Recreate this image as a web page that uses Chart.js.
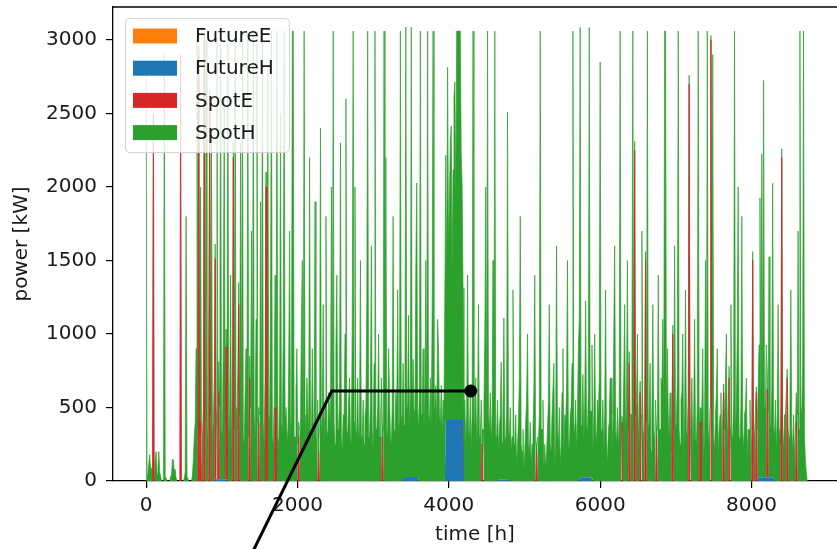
<!DOCTYPE html>
<html>
<head>
<meta charset="utf-8">
<script src="https://cdn.jsdelivr.net/npm/chart.js@4.4.1/dist/chart.umd.min.js"></script>
<style>
  body { margin: 0; background: #fff; }
</style>
</head>
<body>
<canvas id="chart" width="837" height="549"></canvas>
<script>
// samples every 12 h (kW); one row = 10 days
var stepHours = 12;

var futureE = []; // nothing visible for FutureE

var futureH = [
	0,0,0,0,0,0,0,0,0,0,0,0,0,0,0,0,0,0,0,0,
	0,0,0,0,0,0,0,0,0,0,0,0,0,0,0,0,0,0,0,0,
	0,0,0,0,0,0,0,0,0,0,0,0,0,0,0,0,0,0,0,0,
	0,0,0,0,0,0,0,0,0,0,0,0,0,0,0,0,12,12,12,12,
	12,12,12,12,12,12,12,12,12,12,0,0,0,0,0,0,0,0,0,0,
	0,0,0,0,0,0,0,0,0,0,0,0,0,0,0,0,0,0,0,0,
	0,0,0,0,0,0,0,0,0,0,0,0,0,0,0,0,0,0,0,0,
	0,0,0,0,0,0,0,0,0,0,0,0,0,0,0,0,0,0,0,0,
	0,0,0,0,0,0,0,0,0,0,0,0,0,0,0,0,0,0,0,0,
	0,0,0,0,0,0,0,0,0,0,0,0,0,0,0,0,0,0,0,0,
	0,0,0,0,0,0,0,0,0,0,0,0,0,0,0,0,0,0,0,0,
	0,0,0,0,0,0,0,0,0,0,0,0,0,0,0,0,0,0,0,0,
	0,0,0,0,0,0,0,0,0,0,0,0,0,0,0,0,0,0,0,0,
	0,0,0,0,0,0,0,0,0,0,0,0,0,0,0,0,0,0,0,0,
	0,0,0,0,27,27,27,27,27,27,27,27,27,27,27,27,27,27,27,27,
	0,0,0,0,0,0,0,0,0,0,0,0,0,0,0,0,0,0,0,0,
	0,0,0,0,0,0,0,0,0,0,415,415,415,415,415,415,415,415,415,415,
	415,415,415,415,415,415,415,415,415,415,0,0,0,0,0,0,0,0,0,0,
	0,0,0,0,0,0,0,0,0,0,0,0,0,0,0,0,0,0,0,0,
	0,0,0,0,0,0,0,0,8,8,8,8,8,8,8,8,8,8,8,8,
	0,0,0,0,0,0,0,0,0,0,0,0,0,0,0,0,0,0,0,0,
	0,0,0,0,0,0,0,0,0,0,0,0,0,0,0,0,0,0,0,0,
	0,0,0,0,0,0,0,0,0,0,0,0,0,0,0,0,0,0,0,0,
	0,0,0,0,0,0,0,0,0,0,0,0,0,0,0,0,0,0,25,25,
	25,25,25,25,25,25,25,25,25,25,25,25,0,0,0,0,0,0,0,0,
	0,0,0,0,0,0,0,0,0,0,0,0,0,0,0,0,0,0,0,0,
	0,0,0,0,0,0,0,0,0,0,0,0,0,0,0,0,0,0,0,0,
	0,0,0,0,0,0,0,0,0,0,0,0,0,0,0,0,0,0,0,0,
	0,0,0,0,0,0,0,0,0,0,0,0,0,0,0,0,0,0,0,0,
	0,0,0,0,0,0,0,0,0,0,0,0,0,0,0,0,0,0,0,0,
	0,0,0,0,0,0,0,0,0,0,0,0,0,0,0,0,0,0,0,0,
	0,0,0,0,0,0,0,0,0,0,0,0,0,0,0,0,0,0,0,0,
	0,0,0,0,0,0,0,0,0,0,0,0,0,0,0,0,0,0,0,0,
	0,0,0,0,0,0,0,0,0,0,0,0,0,0,25,25,25,25,25,25,
	25,25,25,25,25,25,25,25,25,25,25,25,0,0,0,0,0,0,0,0,
	0,0,0,0,0,0,0,0,0,0,0,0,0,0,0,0,0,0,0,0,
	0,0,0,0,0,0,0,0,0,0
];

var spotE = [
	0,0,0,0,0,0,0,0,2500,0,0,0,0,0,0,0,0,0,0,0,
	0,0,0,0,0,0,0,0,0,0,0,0,0,0,0,0,0,0,2900,0,
	0,0,0,0,0,0,0,0,0,0,0,0,0,0,0,0,0,0,2900,0,
	400,0,0,0,3000,0,0,0,0,0,2600,0,0,0,0,0,1500,0,0,0,
	600,0,0,0,0,0,0,0,900,0,0,0,0,0,0,0,2200,0,0,0,
	0,0,1200,0,0,0,0,0,0,0,0,0,0,0,700,0,0,0,0,0,
	0,0,0,0,400,0,0,0,0,0,0,0,2000,0,0,0,0,0,0,0,
	0,0,500,0,0,0,0,0,0,0,0,0,0,0,0,0,0,0,0,0,
	0,0,0,0,0,0,0,0,300,0,0,0,0,0,0,0,0,0,0,0,
	0,0,0,0,0,0,0,0,0,0,200,0,0,0,0,0,0,0,0,0,
	0,0,0,0,0,0,0,0,0,0,0,0,0,0,0,0,0,0,0,0,
	0,0,0,0,0,0,0,0,0,0,0,0,0,0,0,0,0,0,0,0,
	0,0,0,0,0,0,0,0,0,0,0,0,0,0,0,0,0,0,0,0,
	300,0,0,0,0,0,0,0,0,0,0,0,0,0,0,0,0,0,0,0,
	0,0,0,0,0,0,0,0,0,0,0,0,0,0,0,0,0,0,0,0,
	0,0,0,0,0,0,0,0,0,0,0,0,0,0,0,0,0,0,0,0,
	0,0,0,0,0,0,0,0,0,0,0,0,0,0,0,0,0,0,0,0,
	0,0,0,0,0,0,0,0,0,0,0,0,0,0,0,0,0,0,0,0,
	0,0,0,0,0,0,0,0,0,0,250,0,0,0,0,0,0,0,0,0,
	0,0,0,0,0,0,0,0,0,0,0,0,0,0,0,0,0,0,0,0,
	0,0,0,0,0,0,0,0,0,0,0,0,0,0,0,0,0,0,0,0,
	0,0,0,0,0,0,0,0,0,0,200,0,0,0,0,0,0,0,0,0,
	0,0,0,0,0,0,0,0,0,0,0,0,0,0,0,0,0,0,0,0,
	0,0,0,0,0,0,0,0,0,0,0,0,0,0,0,0,0,0,0,0,
	0,0,0,0,0,0,0,0,0,0,0,0,0,0,0,0,0,0,0,0,
	0,0,0,0,0,0,0,0,0,0,0,0,0,0,0,0,0,0,0,0,
	0,0,0,0,400,0,0,0,0,0,0,0,800,0,0,0,0,0,2250,0,
	0,0,0,0,600,0,0,0,0,0,1500,0,0,0,0,0,0,0,0,0,
	0,0,300,0,0,0,0,0,0,0,0,0,0,0,0,0,0,0,0,0,
	1000,0,0,0,0,0,0,0,0,0,0,0,0,0,0,0,0,0,2700,0,
	0,0,0,0,0,0,0,0,0,0,400,0,0,0,0,0,0,0,0,0,
	0,0,3000,0,0,0,0,0,0,0,0,0,0,0,0,0,600,0,0,0,
	0,0,700,0,0,0,0,0,0,0,0,0,0,0,0,0,0,0,0,0,
	0,0,0,0,0,0,0,0,1500,0,0,0,600,0,0,0,0,0,0,0,
	0,0,0,0,600,0,0,0,0,0,0,0,0,0,0,0,0,0,0,0,
	2200,0,0,0,0,0,700,0,0,0,0,0,0,0,0,0,400,0,0,0,
	0,0,0,0,0,0,0,0,0,0
];

var spotH = [
	2800,40,60,120,180,60,90,30,0,0,150,200,40,90,200,60,30,0,0,0,
	2900,20,20,0,0,0,0,30,40,150,140,60,80,20,0,0,0,0,0,0,
	0,0,20,60,1800,30,30,0,0,0,0,40,150,300,400,900,3000,350,60,300,
	1600,350,300,500,40,400,3000,300,350,1200,60,450,2400,300,400,700,100,450,3000,350,
	200,500,3060,350,300,1000,2600,400,120,450,3060,300,450,1400,250,500,100,350,3060,500,
	350,800,150,450,2300,350,3060,300,250,600,900,400,3060,300,150,500,1700,350,3060,450,
	300,1100,3060,400,100,450,1900,300,3060,400,250,700,100,350,2800,450,400,1300,3060,300,
	250,550,900,350,3060,300,250,600,2500,400,350,1000,3060,450,500,350,250,800,1700,300,
	450,3060,3060,300,300,600,900,250,100,350,350,1100,1500,300,3060,450,250,700,500,300,
	2200,350,250,900,400,300,1900,250,300,550,100,450,2400,300,450,1200,250,500,1800,350,
	300,600,500,350,2000,300,3060,400,250,900,1400,350,350,600,2300,300,200,450,450,1000,
	2600,350,300,550,700,300,250,1100,3060,400,2000,300,350,700,250,400,1500,300,300,550,
	250,450,500,1200,3060,300,300,550,1600,350,200,800,3060,350,350,500,1000,300,300,700,
	100,350,3060,450,2200,300,350,900,600,300,250,500,1800,350,300,600,500,1300,300,450,
	3060,400,450,800,350,550,3060,450,500,1100,300,600,3060,400,800,450,400,1400,2000,450,
	350,650,3060,450,450,900,350,550,1500,400,3060,450,400,700,350,1200,3060,450,500,650,
	350,1100,900,450,400,650,300,550,500,1300,1800,900,2400,1200,1500,1900,2000,1000,1700,2200,
	2300,1500,2645,2645,2645,2645,2645,1800,1600,900,400,550,250,450,1400,350,300,600,200,450,
	3060,400,400,700,250,450,1200,300,300,550,100,350,500,1000,2000,300,3060,450,350,600,
	250,450,1500,350,3060,300,300,550,200,350,450,800,250,450,1100,300,250,500,2500,350,
	300,500,200,300,1300,250,250,450,100,250,400,700,1800,250,200,350,80,200,400,550,
	1000,250,200,400,100,250,350,600,1400,250,50,300,250,450,3060,350,350,550,100,250,
	80,200,350,550,1200,250,200,450,450,800,100,300,1600,350,250,500,100,250,600,900,
	200,450,400,600,1500,300,200,450,500,800,3060,400,300,550,200,450,900,1100,3060,350,
	400,700,250,500,1200,350,300,600,3060,450,450,900,200,450,1000,350,250,550,450,700,
	2850,350,300,550,200,450,1300,300,100,350,400,700,700,450,200,1000,1600,350,250,500,
	200,450,3060,350,40,350,700,1200,300,500,1500,350,80,450,450,900,3060,350,60,450,
	550,1000,250,500,80,450,1700,350,300,600,60,400,3060,350,400,800,200,450,1200,350,
	250,550,60,350,1400,350,350,700,600,1100,450,3060,3060,400,900,450,300,600,200,450,
	60,350,1600,350,400,700,3060,350,250,550,600,1000,200,450,1300,350,300,600,60,350,
	400,700,200,450,1100,300,250,550,3060,350,100,450,500,900,150,350,1500,350,3060,350,
	250,500,30,350,2900,300,200,450,600,900,150,350,450,600,200,450,60,350,700,1000,
	250,500,80,350,1200,300,300,550,3060,350,500,1000,2000,300,250,500,1800,350,200,450,
	500,700,150,350,350,550,150,300,60,350,300,500,40,350,600,900,1900,350,2200,450,
	2700,450,500,900,120,450,1500,350,350,600,2000,350,300,550,200,450,1200,350,250,500,
	60,350,200,450,450,600,60,350,300,500,1300,350,200,450,150,350,200,450,1700,350,
	3060,500,450,800,3060,300,150,60,0,0
];

// pointer drawn over the figure: [hour, kW]
var pointerX = [1381, 2453, 4290];
var pointerY = [-510, 612, 612];

var xTicks = [0, 2000, 4000, 6000, 8000];
var yTicks = [0, 500, 1000, 1500, 2000, 2500, 3000];

function toPoints(arr) {
	return arr.map(function (v, i) { return { x: i * stepHours, y: v }; });
}

Chart.defaults.font.family = "'DejaVu Sans', sans-serif";
Chart.defaults.color = '#1a1a1a';

// matplotlib style legend box in the upper left + top spine
var boxLegend = {
	id: 'boxLegend',
	afterDatasetsDraw: function (chart) {
		var ctx = chart.ctx;
		var area = chart.chartArea;
		ctx.save();
		ctx.strokeStyle = '#000';
		ctx.lineWidth = 1.3;
		ctx.beginPath();
		ctx.moveTo(area.left, area.top);
		ctx.lineTo(area.right, area.top);
		ctx.stroke();

		var bx = area.left + 12, by = area.top + 11;
		ctx.beginPath();
		ctx.roundRect(bx + 0.5, by + 0.5, 164, 134, 4);
		ctx.fillStyle = 'rgba(255,255,255,0.8)';
		ctx.fill();
		ctx.strokeStyle = '#d3d3d3';
		ctx.lineWidth = 1;
		ctx.stroke();

		ctx.font = "20px 'DejaVu Sans'";
		ctx.textBaseline = 'middle';
		ctx.textAlign = 'left';
		var items = chart.data.datasets.filter(function (d) { return !d.isNote; });
		items.forEach(function (d, i) {
			var cy = by + 18 + i * 32.2;
			ctx.fillStyle = d.swatch;
			ctx.fillRect(bx + 8, cy - 7.5, 44, 15);
			ctx.fillStyle = '#1a1a1a';
			ctx.fillText(d.label, bx + 70, cy + 1);
		});
		ctx.restore();
	}
};

function areaSet(label, color, values, fill, edge) {
	return {
		label: label,
		swatch: color,
		data: toPoints(values),
		backgroundColor: color,
		borderColor: color,
		borderWidth: edge,
		pointRadius: 0,
		tension: 0,
		fill: fill,
		// no edge where the layer is empty
		segment: {
			borderColor: function (c) {
				return (c.p0.parsed.y === 0 && c.p1.parsed.y === 0) ? 'rgba(0,0,0,0)' : color;
			}
		}
	};
}

new Chart(document.getElementById('chart'), {
	type: 'line',
	data: {
		datasets: [
			areaSet('FutureE', '#ff7f0e', futureE, false, 0),
			areaSet('FutureH', '#1f77b4', futureH, 'origin', 0),
			areaSet('SpotE', '#d62728', spotE, '-1', 0.8),
			areaSet('SpotH', '#2ca02c', spotH, '-1', 0.7),
			{
				isNote: true,
				stack: 'note',
				order: -1,
				data: pointerX.map(function (x, i) { return { x: x, y: pointerY[i] }; }),
				borderColor: '#000',
				borderWidth: 3,
				pointRadius: [0, 0, 6.5],
				pointBackgroundColor: '#000',
				pointBorderWidth: 0,
				fill: false,
				clip: false
			}
		]
	},
	options: {
		responsive: false,
		animation: false,
		layout: { autoPadding: false, padding: { top: 7, left: 0, right: 0, bottom: 0 } },
		plugins: { legend: { display: false }, tooltip: { enabled: false } },
		scales: {
			x: {
				type: 'linear',
				min: -438,
				max: 9130,
				afterFit: function (scale) {
					scale.height = 68;
					scale.paddingLeft = 0;
					scale.paddingRight = 0;
				},
				afterBuildTicks: function (scale) {
					scale.ticks = xTicks.map(function (v) { return { value: v }; });
				},
				ticks: {
					font: { size: 20 },
					padding: 6,
					maxRotation: 0,
					callback: function (v) { return String(v); }
				},
				grid: { drawOnChartArea: false, tickLength: 7, color: '#000', lineWidth: 1.2 },
				border: { color: '#000', width: 1.3 },
				title: { display: true, text: 'time [h]', font: { size: 20 }, padding: { top: 0, bottom: 2 } }
			},
			y: {
				stacked: true,
				min: 0,
				max: 3224,
				afterFit: function (scale) {
					scale.width = 113;
					scale.paddingTop = 0;
					scale.paddingBottom = 0;
				},
				afterBuildTicks: function (scale) {
					scale.ticks = yTicks.map(function (v) { return { value: v }; });
				},
				ticks: {
					font: { size: 20 },
					padding: 9,
					callback: function (v) { return String(v); }
				},
				grid: { drawOnChartArea: false, tickLength: 7, color: '#000', lineWidth: 1.2 },
				border: { color: '#000', width: 1.3 },
				title: { display: true, text: 'power [kW]', font: { size: 20 }, padding: { top: 10, bottom: 0 } }
			}
		}
	},
	plugins: [boxLegend]
});
</script>
</body>
</html>
